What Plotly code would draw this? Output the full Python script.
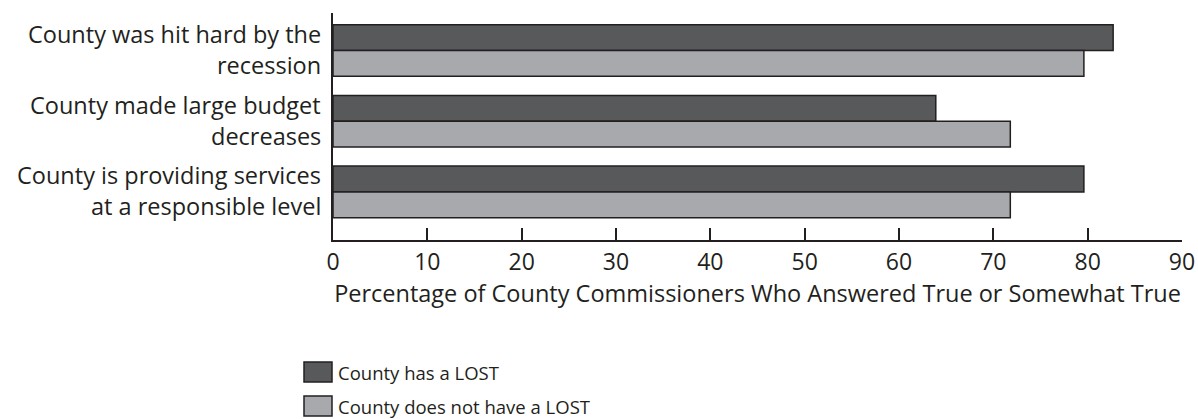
import plotly.graph_objects as go

categories = [
    "County was hit hard by the<br>recession",
    "County made large budget<br>decreases",
    "County is providing services<br>at a responsible level",
]
series_names = ["County has a LOST", "County does not have a LOST"]
has_lost = [82.7, 63.9, 79.6]
no_lost = [79.6, 71.8, 71.8]
x_ticks = [0, 10, 20, 30, 40, 50, 60, 70, 80, 90]
x_title = "Percentage of County Commissioners Who Answered True or Somewhat True"

colors = ["#58595B", "#A7A9AC"]
outline = "#231F20"
FONT = "Open Sans"
TXT = "#231F20"

fig = go.Figure()
for name, vals, col in zip(series_names, [has_lost, no_lost], colors):
    fig.add_trace(go.Bar(
        y=categories, x=vals, name=name, orientation="h",
        marker=dict(color=col, line=dict(color=outline, width=1.5)),
        showlegend=False, hoverinfo="x+name",
    ))

# two-line category labels, right aligned
annotations = []
for cat in categories:
    lines = cat.split("<br>")
    n = len(lines)
    for j, line in enumerate(lines):
        annotations.append(dict(
            text=line, xref="paper", x=0, xanchor="right", xshift=-10,
            yref="y", y=cat, yanchor="middle",
            yshift=(n - 1) / 2 * 31 - j * 31 + 1,
            showarrow=False, font=dict(family=FONT, size=23.5, color=TXT),
        ))

# manual legend (box + label), in paper coordinates
shapes = []
PW, PH = 849.0, 227.0
for k, (name, col) in enumerate(zip(series_names, colors)):
    top = 362 + k * 34
    y0 = (240 - (top + 20)) / PH
    y1 = (240 - top) / PH
    x0 = (304 - 333) / PW
    x1 = (332 - 333) / PW
    shapes.append(dict(type="rect", xref="paper", yref="paper",
                       x0=x0, x1=x1, y0=y0, y1=y1,
                       fillcolor=col, line=dict(color=outline, width=1.5)))
    annotations.append(dict(
        text=name, xref="paper", yref="paper",
        x=(337 - 333) / PW, xanchor="left",
        y=(y0 + y1) / 2, yanchor="middle", showarrow=False,
        font=dict(family=FONT, size=18.5, color=TXT),
        borderpad=0,
    ))

fig.update_layout(
    width=1198, height=419, autosize=False,
    margin=dict(l=333, r=16, t=13, b=179, pad=0, autoexpand=False),
    paper_bgcolor="white", plot_bgcolor="white",
    barmode="group", bargap=0.27, bargroupgap=0,
    font=dict(family=FONT, size=23, color=TXT),
    annotations=annotations, shapes=shapes,
    xaxis=dict(
        range=[0, 90], tickvals=x_ticks, ticktext=[str(t) for t in x_ticks],
        ticks="inside", ticklen=12, tickwidth=2, tickcolor=outline,
        showline=True, linewidth=2, linecolor=outline,
        showgrid=False, zeroline=False, automargin=False,
        tickfont=dict(family=FONT, size=23, color=TXT),
        title=dict(text=x_title, font=dict(family=FONT, size=23.5, color=TXT), standoff=8),
    ),
    yaxis=dict(
        range=[2.68, -0.53], showticklabels=False, ticks="",
        showline=True, linewidth=2, linecolor=outline,
        showgrid=False, zeroline=False, automargin=False,
    ),
)

fig.write_html(
    "out.html",
    config=dict(displayModeBar=False, responsive=False),
    post_script=(
        "document.documentElement.style.overflow='hidden';"
        "document.body.style.margin='0';document.body.style.padding='0';"
        "document.body.style.overflow='hidden';"
    ),
)
